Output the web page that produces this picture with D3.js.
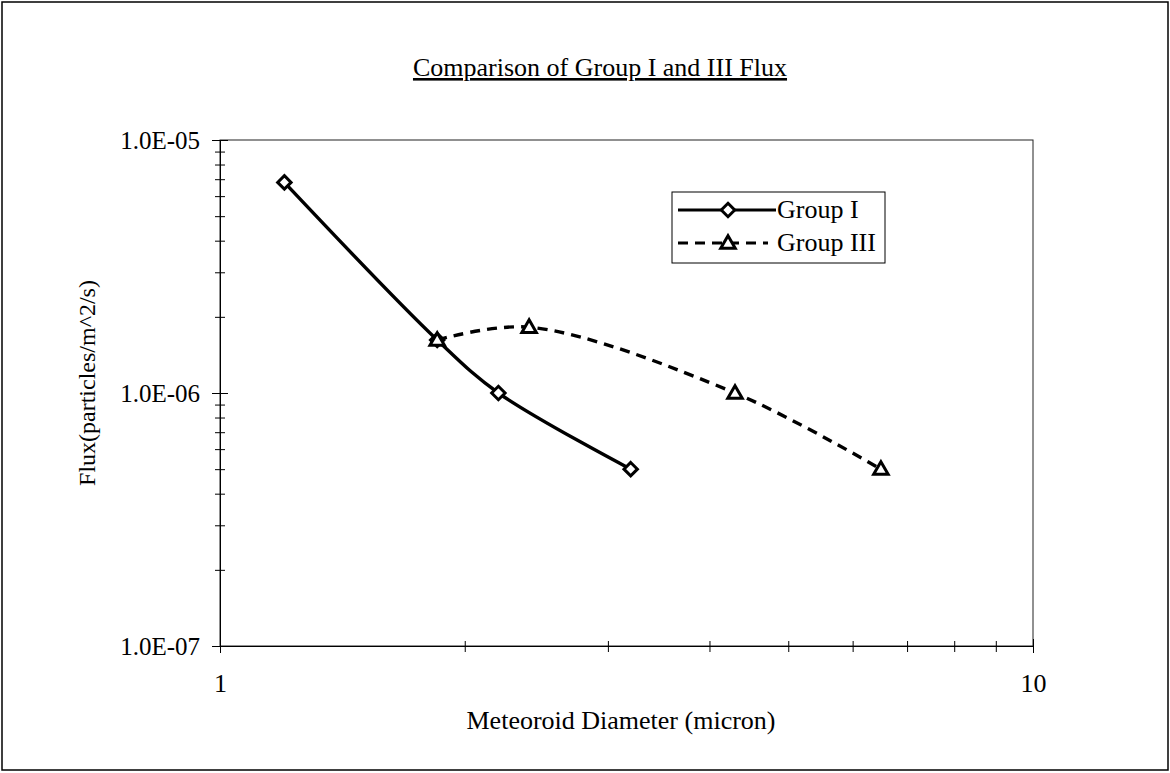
<!DOCTYPE html>
<html>
<head>
<meta charset="utf-8">
<script src="https://cdn.jsdelivr.net/npm/d3@7"></script>
<style>
  body { margin: 0; background: #fff; }
  svg { display: block; font-family: "Liberation Serif", "Times New Roman", serif; }
</style>
</head>
<body>
<div id="graph"></div>
<script>
const width = 1170, height = 773;

// data
const seriesNames = ["Group I", "Group III"];
const diameterI = [1.2, 1.85, 2.2, 3.2];
const fluxI = [6.8e-6, 1.62e-6, 1.0e-6, 5.0e-7];
const diameterIII = [1.85, 2.4, 4.3, 6.5];
const fluxIII = [1.62e-6, 1.82e-6, 1.0e-6, 5.0e-7];
const yMajor = [1e-7, 1e-6, 1e-5];
const yTickLabels = ["1.0E-07", "1.0E-06", "1.0E-05"];
const xMajor = [1, 10];
const xTickLabels = ["1", "10"];

const margin = {top: 140, right: 137, bottom: 127, left: 220};

const x = d3.scaleLog().domain([1, 10]).range([margin.left, width - margin.right]);
const y = d3.scaleLog().domain([1e-7, 1e-5]).range([height - margin.bottom, margin.top]);

const svg = d3.create("svg").attr("width", width).attr("height", height);

// outer frame
svg.append("rect")
    .attr("x", 2).attr("y", 2).attr("width", width - 4).attr("height", height - 5)
    .attr("fill", "none").attr("stroke", "#000").attr("stroke-width", 1.5);

// plot area box
svg.append("rect")
    .attr("x", x(1)).attr("y", y(1e-5))
    .attr("width", x(10) - x(1)).attr("height", y(1e-7) - y(1e-5))
    .attr("fill", "none").attr("stroke", "#222").attr("stroke-width", 1);

// title
svg.append("text")
    .attr("x", 600).attr("y", 76)
    .attr("text-anchor", "middle")
    .attr("font-size", 26)
    .attr("text-decoration", "underline")
    .text("Comparison of Group I and III Flux");

// minor ticks
const yMinor = [];
[1e-7, 1e-6].forEach(b => { for (let k = 2; k <= 9; k++) yMinor.push(k * b); });
const xMinor = d3.range(2, 10);

// y axis
svg.append("g")
    .attr("transform", `translate(${x(1)},0)`)
    .call(d3.axisLeft(y).tickValues(yMajor).tickSize(8).tickPadding(12)
        .tickFormat((d, i) => yTickLabels[i]))
    .call(g => g.select(".domain").attr("stroke", "#000"))
    .call(g => g.selectAll(".tick line").attr("x1", 8))
    .call(g => g.selectAll(".tick text").attr("font-size", 25).attr("fill", "#000")
        .attr("dy", "0.34em")
        .attr("font-family", "Liberation Serif, serif"));

svg.append("g")
    .attr("transform", `translate(${x(1)},0)`)
    .call(d3.axisLeft(y).tickValues(yMinor).tickSize(5).tickFormat(""))
    .call(g => g.select(".domain").remove())
    .call(g => g.selectAll(".tick line").attr("x1", 5));

// x axis
svg.append("g")
    .attr("transform", `translate(0,${y(1e-7)})`)
    .call(d3.axisBottom(x).tickValues(xMajor).tickSize(7).tickPadding(21)
        .tickFormat((d, i) => xTickLabels[i]))
    .call(g => g.select(".domain").attr("stroke", "#000"))
    .call(g => g.selectAll(".tick line").attr("y1", -7))
    .call(g => g.selectAll(".tick text").attr("font-size", 26).attr("fill", "#000")
        .attr("font-family", "Liberation Serif, serif"));

svg.append("g")
    .attr("transform", `translate(0,${y(1e-7)})`)
    .call(d3.axisBottom(x).tickValues(xMinor).tickSize(6).tickFormat(""))
    .call(g => g.select(".domain").remove())
    .call(g => g.selectAll(".tick line").attr("y1", -5));

// axis titles
svg.append("text")
    .attr("x", 621).attr("y", 729)
    .attr("text-anchor", "middle").attr("font-size", 26)
    .text("Meteoroid Diameter (micron)");

svg.append("text")
    .attr("transform", `translate(95,383) rotate(-90)`)
    .attr("text-anchor", "middle").attr("font-size", 24)
    .text("Flux(particles/m^2/s)");

// series
const dataI = diameterI.map((d, i) => ({x: d, y: fluxI[i]}));
const dataIII = diameterIII.map((d, i) => ({x: d, y: fluxIII[i]}));

const line = d3.line()
    .x(d => x(d.x)).y(d => y(d.y))
    .curve(d3.curveCatmullRom.alpha(0.5));

svg.append("path")
    .attr("d", line(dataIII))
    .attr("fill", "none").attr("stroke", "#000").attr("stroke-width", 3.4)
    .attr("stroke-dasharray", "10,7");

svg.append("path")
    .attr("d", line(dataI))
    .attr("fill", "none").attr("stroke", "#000").attr("stroke-width", 3.4);

const diamond = d3.symbol().type(d3.symbolDiamond2).size(115);
const triangle = d3.symbol().type(d3.symbolTriangle2).size(150);

svg.append("g").selectAll("path")
    .data(dataI)
    .join("path")
      .attr("transform", d => `translate(${x(d.x)},${y(d.y)})`)
      .attr("d", diamond)
      .attr("fill", "#fff").attr("stroke", "#000").attr("stroke-width", 3);

svg.append("g").selectAll("path")
    .data(dataIII)
    .join("path")
      .attr("transform", d => `translate(${x(d.x)},${y(d.y) + 1})`)
      .attr("d", triangle)
      .attr("fill", "#fff").attr("stroke", "#000").attr("stroke-width", 3);

// legend
const legend = svg.append("g").attr("transform", "translate(672,192)");
legend.append("rect")
    .attr("width", 213).attr("height", 71)
    .attr("fill", "#fff").attr("stroke", "#000").attr("stroke-width", 1);

const items = [
  {name: seriesNames[0], dash: null, sym: diamond, yy: 18, x2: 104},
  {name: seriesNames[1], dash: "10,7", sym: triangle, yy: 51, x2: 96}
];
items.forEach(it => {
  legend.append("line")
      .attr("x1", 6).attr("x2", it.x2).attr("y1", it.yy).attr("y2", it.yy)
      .attr("stroke", "#000").attr("stroke-width", 3)
      .attr("stroke-dasharray", it.dash);
  legend.append("path")
      .attr("transform", `translate(56,${it.yy + (it.dash ? 1 : 0)})`)
      .attr("d", it.sym)
      .attr("fill", "#fff").attr("stroke", "#000").attr("stroke-width", 3);
  legend.append("text")
      .attr("x", 105).attr("y", it.yy + 8)
      .attr("font-size", 26)
      .text(it.name);
});

d3.select("#graph").append(() => svg.node());
</script>
</body>
</html>
